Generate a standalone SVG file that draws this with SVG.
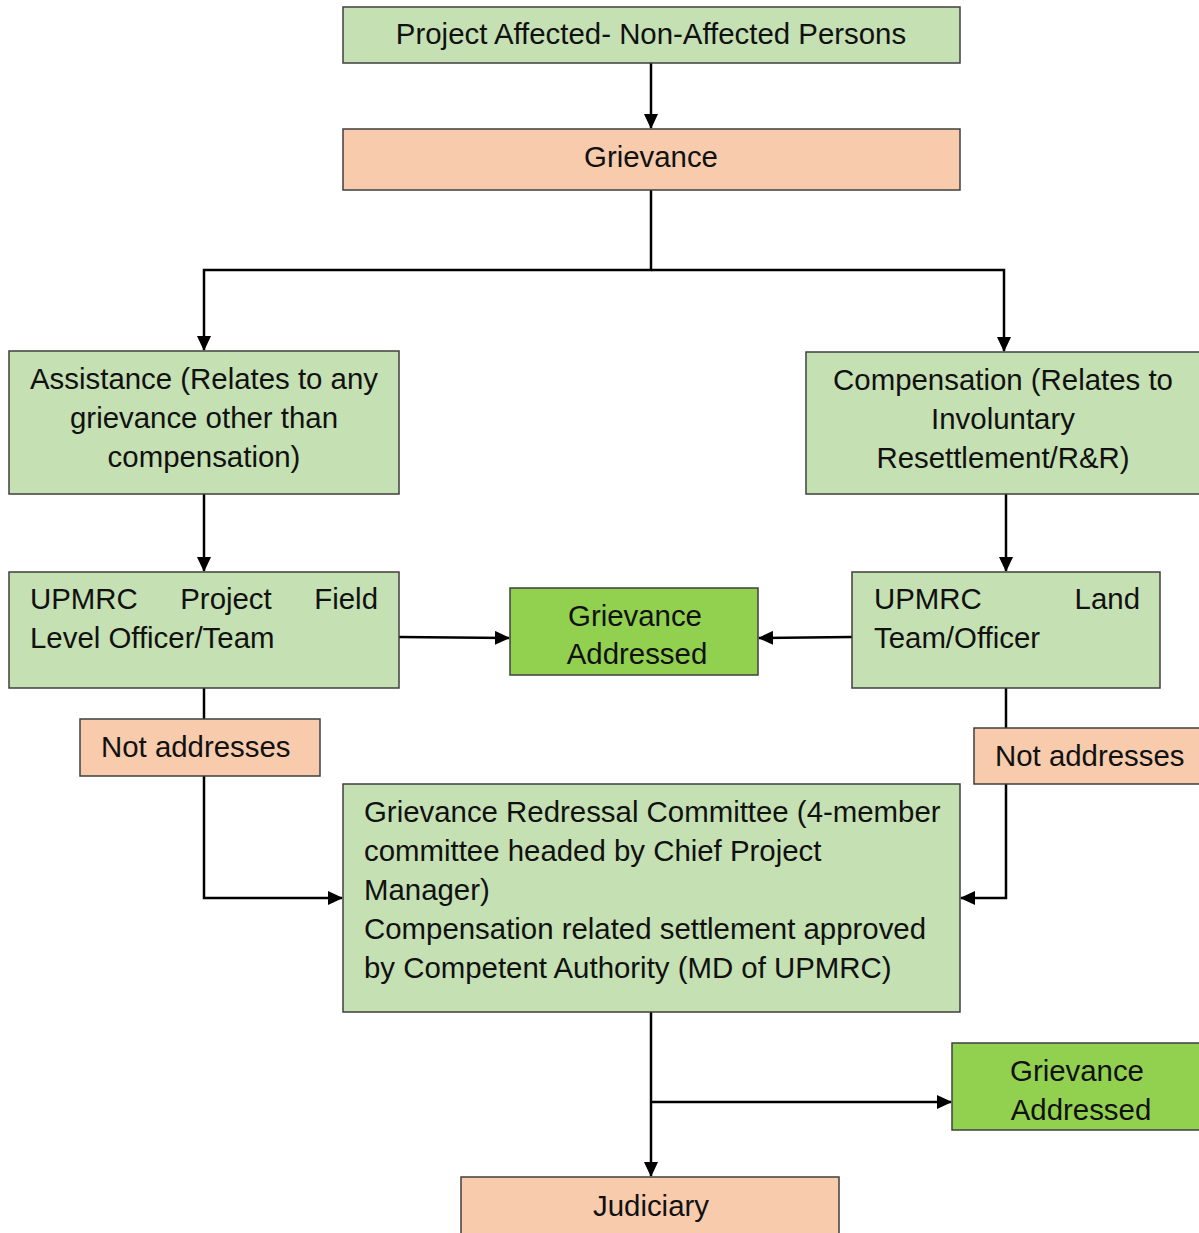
<svg xmlns="http://www.w3.org/2000/svg" width="1199" height="1233" viewBox="0 0 1199 1233">
<style>
.box{stroke:#3f3f3f;stroke-width:1.5}
.g{fill:#c5e0b3}
.o{fill:#f8cbad}
.b{fill:#92d050}
text{font-family:"Liberation Sans",Arial,sans-serif;font-size:29.4px;fill:#111}
.c{text-anchor:middle}
.conn{fill:none;stroke:#000;stroke-width:2.5}
</style>
<defs>
<marker id="ah" markerWidth="15" markerHeight="14" refX="14" refY="7" orient="auto" markerUnits="userSpaceOnUse" viewBox="0 0 15 14">
<path d="M0,0 L15,7 L0,14 z" fill="#000"/>
</marker>
</defs>
<rect width="1199" height="1233" fill="#fff"/>
<g id="connectors">
<path class="conn" d="M651,63 V128" marker-end="url(#ah)"/>
<path class="conn" d="M651,190 V270 H204 V350" marker-end="url(#ah)"/>
<path class="conn" d="M651,270 H1004 V351" marker-end="url(#ah)"/>
<path class="conn" d="M204,494 V571" marker-end="url(#ah)"/>
<path class="conn" d="M1006,494 V571" marker-end="url(#ah)"/>
<path class="conn" d="M399,637 L509,638" marker-end="url(#ah)"/>
<path class="conn" d="M852,637 L759,638" marker-end="url(#ah)"/>
<path class="conn" d="M204,688 V719"/>
<path class="conn" d="M204,776 V898 H342" marker-end="url(#ah)"/>
<path class="conn" d="M1006,688 V728"/>
<path class="conn" d="M1006,784 V898 H961" marker-end="url(#ah)"/>
<path class="conn" d="M651,1012 V1176" marker-end="url(#ah)"/>
<path class="conn" d="M651,1102 H951" marker-end="url(#ah)"/>
</g>
<g id="n-persons">
<rect class="box g" x="343" y="7" width="617" height="56"/>
<text class="c" x="651" y="44">Project Affected- Non-Affected Persons</text>
</g>
<g id="n-grievance">
<rect class="box o" x="343" y="129" width="617" height="61"/>
<text class="c" x="651" y="167">Grievance</text>
</g>
<g id="n-assistance">
<rect class="box g" x="9" y="351" width="390" height="143"/>
<text class="c" x="204" y="389">Assistance (Relates to any</text>
<text class="c" x="204" y="428">grievance other than</text>
<text class="c" x="204" y="467">compensation)</text>
</g>
<g id="n-compensation">
<rect class="box g" x="806" y="352" width="400" height="142"/>
<text class="c" x="1003" y="390">Compensation (Relates to</text>
<text class="c" x="1003" y="429">Involuntary</text>
<text class="c" x="1003" y="468">Resettlement/R&amp;R)</text>
</g>
<g id="n-field">
<rect class="box g" x="9" y="572" width="390" height="116"/>
<text x="30" y="609">UPMRC</text>
<text class="c" x="226" y="609">Project</text>
<text x="378" y="609" text-anchor="end">Field</text>
<text x="30" y="648">Level Officer/Team</text>
</g>
<g id="n-addressed1">
<rect class="box b" x="510" y="588" width="248" height="87"/>
<text class="c" x="635" y="626">Grievance</text>
<text class="c" x="637" y="664">Addressed</text>
</g>
<g id="n-land">
<rect class="box g" x="852" y="572" width="308" height="116"/>
<text x="874" y="609">UPMRC</text>
<text x="1140" y="609" text-anchor="end">Land</text>
<text x="874" y="648">Team/Officer</text>
</g>
<g id="n-not1">
<rect class="box o" x="80" y="719" width="240" height="57"/>
<text x="101" y="757">Not addresses</text>
</g>
<g id="n-not2">
<rect class="box o" x="974" y="728" width="232" height="56"/>
<text x="995" y="766">Not addresses</text>
</g>
<g id="n-grc">
<rect class="box g" x="343" y="784" width="617" height="228"/>
<text x="364" y="822">Grievance Redressal Committee (4-member</text>
<text x="364" y="861">committee headed by Chief Project</text>
<text x="364" y="900">Manager)</text>
<text x="364" y="939">Compensation related settlement approved</text>
<text x="364" y="978">by Competent Authority (MD of UPMRC)</text>
</g>
<g id="n-addressed2">
<rect class="box b" x="952" y="1043" width="254" height="87"/>
<text class="c" x="1077" y="1081">Grievance</text>
<text class="c" x="1081" y="1120">Addressed</text>
</g>
<g id="n-judiciary">
<rect class="box o" x="461" y="1177" width="378" height="70"/>
<text class="c" x="651" y="1216">Judiciary</text>
</g>
</svg>
